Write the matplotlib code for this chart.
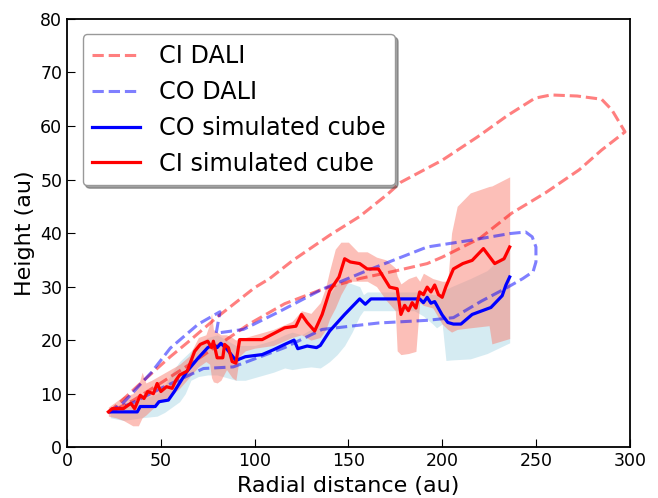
import matplotlib
matplotlib.use("Agg")
import matplotlib.pyplot as plt

# DALI model contours (closed outlines)
ci_dali_x = [22, 40, 55, 64, 80, 100, 108, 120, 140, 156, 171, 178, 200, 219, 235, 249.5, 258, 272, 285, 290.5, 297.5,
             285, 273, 255, 237, 220, 200, 192, 176, 156, 136, 116, 97, 69, 50, 35, 22]
ci_dali_y = [6.4, 12.2, 16.9, 19.5, 24.3, 29.8, 31.5, 34.8, 39.6, 43.1, 47.3, 49.5, 53.6, 58, 62, 65.2, 65.8, 65.6, 65, 63, 58.9,
             55.5, 51.8, 47.5, 43.7, 39.0, 35.5, 34.3, 33.0, 31.5, 29.5, 26.8, 23.0, 16.3, 12.0, 8.7, 6.4]

co_dali_x = [22, 30, 45, 55, 70, 81.5, 79.5, 94, 113, 136, 160, 192, 216, 236, 244.5, 248, 250, 250, 248.5, 243, 234, 221, 206,
             192, 166, 136, 116, 100, 88.6, 72.7, 50, 35, 22]
co_dali_y = [6.5, 8.3, 14, 18.5, 23, 25.3, 21.3, 22, 25.3, 29.5, 33, 37.4, 38.7, 39.9, 40.2, 39.3, 37.4, 34.6, 32.8, 31.5, 29.7,
             27.3, 24.2, 23.7, 23.2, 22, 18.6, 16.5, 15, 14.7, 11, 8.3, 6.5]

# simulated cube emission heights
ci_x = [22, 24, 30, 34, 36, 39, 41, 43, 46, 48, 50, 53, 56, 58, 60, 64, 68, 71, 75, 77, 78, 80, 83, 84, 86, 88, 90, 92,
        104, 116, 122, 125, 128, 132, 136, 140, 145, 148, 151, 156, 160, 166, 172, 176, 178, 180, 182, 184, 186, 188,
        190, 192, 194, 196, 198, 200, 202, 206, 211, 216, 222, 228, 233, 236]
ci_y = [6.6, 7.2, 7.2, 8.2, 7.2, 9.7, 9.1, 10.4, 10.0, 11.9, 10.4, 11.3, 11.0, 12.5, 13.5, 14.2, 17.9, 19.2, 19.8, 18.6,
        19.8, 16.7, 16.7, 19.2, 18.6, 16.0, 15.7, 20.1, 20.1, 22.3, 22.6, 24.8, 23.3, 21.7, 24.8, 29.2, 31.8, 35.2, 34.6,
        34.3, 33.3, 33.3, 29.9, 29.6, 24.8, 26.5, 25.5, 27.0, 26.0, 29.0, 28.5, 29.9, 29.0, 30.3, 28.5, 28.0, 30.0, 33.3,
        34.3, 34.9, 37.1, 34.3, 35.2, 37.4]

co_x = [23.4, 37.4, 39, 47, 49, 54, 57, 60, 64, 70, 75, 78, 80, 82, 85, 90, 95, 104, 110, 116, 121, 123, 128, 133, 135,
        140, 148, 156, 159, 162, 188, 190, 192, 194, 196, 200, 203, 206, 210, 216, 226, 232, 234, 236]
co_y = [6.6, 6.6, 7.6, 7.6, 8.5, 8.8, 10.3, 12.0, 14.2, 16.7, 18.6, 19.2, 18.6, 19.4, 18.4, 16.2, 16.9, 17.3, 18.2, 19.2,
        20.0, 18.4, 18.9, 18.6, 19.0, 21.7, 24.8, 27.7, 26.7, 27.7, 27.7, 27.0, 28.0, 26.9, 27.2, 24.7, 23.3, 23.0, 23.0,
        24.8, 26.1, 28.3, 30.3, 31.8]

# uncertainty bands
ci_band_x = [22, 26, 30, 35, 38, 40, 42, 45, 50, 55, 60, 65, 70, 74, 76, 77, 78, 80, 82, 85, 88, 90, 92, 95, 100, 110,
             120, 125, 130, 135, 138, 140, 143, 146, 150, 155, 160, 165, 170, 175, 176, 178, 182, 186, 188, 190, 195,
             200, 203, 205, 208, 215, 225, 226.5, 236]
ci_band_hi = [7.5, 8.5, 9.5, 10, 11.5, 14, 12, 12.5, 13.5, 14.5, 15.5, 17, 20.5, 21, 23, 25, 22, 21.5, 21, 21, 20.5, 20,
              20.5, 20.5, 21, 22, 23.5, 25.5, 25, 27, 30, 33, 37, 38.3, 38.3, 36.5, 36.5, 35.5, 35, 33.5, 32, 30.5, 31.5,
              32, 31, 32.5, 31.5, 31, 31, 40, 45, 47.5, 48.7, 48.8, 50.5]
ci_band_lo = [5.8, 5.5, 5, 4, 4, 5.5, 6, 7, 8.5, 9.5, 11, 13, 15, 16, 15.5, 13, 12.2, 12, 12.5, 14.5, 13, 12.5, 17, 18,
              18.5, 19, 20.5, 21, 20, 20.5, 22, 24, 26, 28.5, 31, 31, 31, 30, 27.5, 25.5, 18, 17.3, 17.5, 17.9, 27,
              26.5, 26, 23, 22, 21.5, 22, 22.3, 22.7, 19.3, 20.3]

co_band_x = [23, 30, 40, 48, 52, 56, 60, 63, 66, 70, 75, 80, 85, 90, 95, 100, 110, 116, 120, 125, 130, 135, 138, 140,
             144, 148, 152, 156, 158, 160, 170, 185, 190, 195, 197, 200, 202, 205, 215, 224, 230, 236]
co_band_hi = [7.5, 7.5, 9, 10, 11.5, 14, 16, 17, 18, 19.5, 20.5, 21, 20, 19, 19, 19, 20, 21, 21.5, 21, 22, 24, 27, 28.5,
              30.5, 31, 30.5, 30, 28.5, 29, 29, 29, 29, 28.5, 28.5, 28, 29.5, 30, 31.5, 33, 35, 37]
co_band_lo = [5.5, 5, 5.5, 5.8, 6.5, 7.5, 8.5, 10, 12.5, 13.2, 13.5, 13.5, 13, 12.5, 12.5, 13, 14, 14.8, 14.5, 14.8, 15,
              14.8, 15.5, 16, 17.3, 19, 21.5, 24.5, 25.5, 25.5, 25.5, 25.5, 24.5, 23, 22.3, 23, 16.2, 16.3, 16.5, 17.5,
              18.5, 19.5]

fig = plt.figure(figsize=(6.58, 4.98), dpi=100)
ax = fig.add_axes([0.102, 0.102, 0.855, 0.86])

ax.fill_between(co_band_x, co_band_lo, co_band_hi, color="lightblue", alpha=0.5, lw=0)
ax.fill_between(ci_band_x, ci_band_lo, ci_band_hi, color="salmon", alpha=0.5, lw=0)

ax.plot(ci_dali_x, ci_dali_y, "--", color="red", alpha=0.5, lw=2.2, label="CI DALI")
ax.plot(co_dali_x, co_dali_y, "--", color="blue", alpha=0.5, lw=2.2, label="CO DALI")
ax.plot(co_x, co_y, color="blue", lw=2.3, label="CO simulated cube")
ax.plot(ci_x, ci_y, color="red", lw=2.3, label="CI simulated cube")

ax.set_xlim(0, 300)
ax.set_ylim(0, 80)
ax.set_xlabel("Radial distance (au)", fontsize=16)
ax.set_ylabel("Height (au)", fontsize=16)
ax.tick_params(direction="in", length=6, labelsize=12.5, top=False, right=False)
for s in ax.spines.values():
    s.set_linewidth(1.3)

ax.legend(loc="upper left", fontsize=17.2, shadow=True, framealpha=1, edgecolor="0.6", borderaxespad=0.65)

fig.savefig("out.png", dpi=100)
